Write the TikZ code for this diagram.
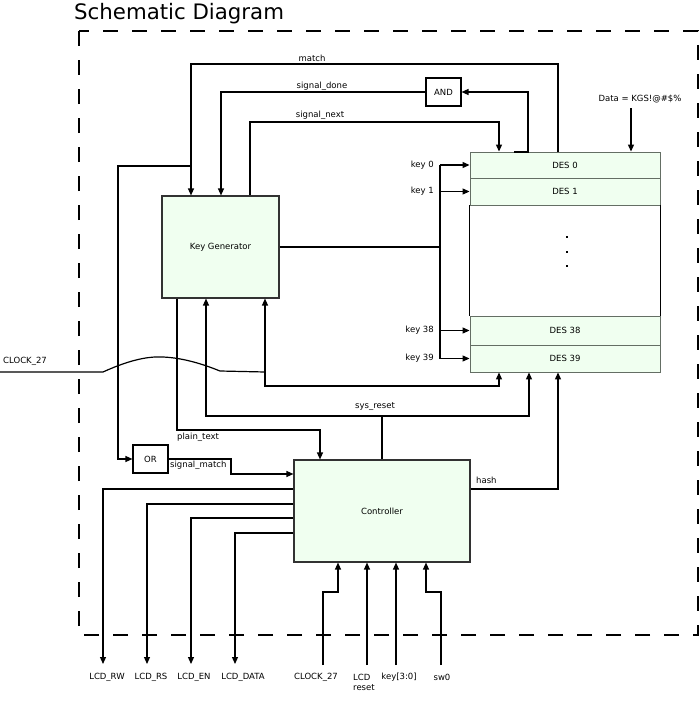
\documentclass[tikz,border=0pt]{standalone}
\usepackage{fontspec}
\setmainfont{DejaVu Sans}
\usetikzlibrary{arrows.meta,calc}
\definecolor{boxfill}{RGB}{240,255,240}
\definecolor{boxline}{RGB}{50,50,50}
\definecolor{desline}{RGB}{100,110,100}
\begin{document}
\begin{tikzpicture}[x=1pt,y=-1pt,
  wire/.style={line width=1.2pt, black},
  arr/.style={wire,-{Triangle[length=7pt,width=6pt]}},
  busline/.style={line width=2pt, black},
  lbl/.style={font=\fontsize{8.5}{11}\selectfont, inner sep=0pt},
  blk/.style={draw=boxline, line width=1.1pt, fill=boxfill, inner sep=0pt, font=\fontsize{8.5}{11}\selectfont},
  desbox/.style={draw=desline, line width=0.9pt, fill=boxfill, inner sep=0pt, minimum width=190pt, font=\fontsize{8.5}{11}\selectfont},
  gate/.style={draw=black, line width=1.1pt, fill=white, inner sep=0pt, minimum width=35pt, minimum height=28pt, font=\fontsize{8.5}{11}\selectfont},
  frame/.style={line width=1.3pt, dash pattern=on 15pt off 14pt, dash phase=5pt}
  ]
\useasboundingbox (0,0) rectangle (700,701);

% title and frame
\node[anchor=base west, inner sep=0pt, font=\fontsize{21.3}{25}\selectfont] (title) at (74,20) {Schematic Diagram};
\draw[frame] (79,31) -- (698,31) -- (698,635) -- (79,635) -- cycle;

% blocks
\node[blk, minimum width=117pt, minimum height=102pt] (kg) at (220.5,247) {Key Generator};
\node[blk, minimum width=176pt, minimum height=102pt] (ctrl) at (382,511) {Controller};
\node[gate] (and) at (443.5,92) {AND};
\node[gate] (org) at (150.5,459) {OR};

% DES stack
\node[desbox, minimum height=26pt] (des0) at (565,165) {DES 0};
\node[desbox, minimum height=27pt] (des1) at (565,191.5) {DES 1};
\node[desbox, minimum height=29pt] (des38) at (565,330.5) {DES 38};
\node[desbox, minimum height=27pt] (des39) at (565,358.5) {DES 39};
\draw[line width=1pt] (des1.south west) -- (des38.north west);
\draw[line width=1pt] (des1.south east) -- (des38.north east);
\fill (566,236) rectangle (568.4,238.4);
\fill (566,251) rectangle (568.4,253.4);
\fill (566,265) rectangle (568.4,267.4);

% match
\coordinate (mA) at (558,64);
\coordinate (mB) at (191,64);
\coordinate (mJ) at (191,166);
\coordinate (mC) at (118,166);
\draw[arr] (mA |- des0.north) -- (mA) -- (mB) -- (mB |- kg.north);
\draw[arr] (mJ) -- (mC) |- (org.west);
\node[lbl] (lmatch) at (312,58) {match};

% signal_done
\coordinate (dA) at (221,92);
\draw[arr] (and.west) -- (dA) -- (dA |- kg.north);
\node[lbl] (ldone) at (322,86) {signal\_done};
\coordinate (aS) at (514,152);
\coordinate (aA) at (528,92);
\draw[arr] (aS) -- (aS -| aA) -- (aA) -- (and.east);

% signal_next
\coordinate (nA) at (250,122);
\coordinate (nB) at (499,122);
\draw[arr] (nA |- kg.north) -- (nA) -- (nB) -- (nB |- des0.north);
\node[lbl] (lnext) at (320,115) {signal\_next};

% data
\node[lbl] (data) at (640,99) {Data = KGS!@\#\$\%};
\coordinate (dT) at (631,108);
\draw[arr] (dT) -- (dT |- des0.north);

% key bus
\coordinate (bus) at (440,247);
\draw[busline] (kg.east) -- (bus);
\draw[wire] (bus |- des0.west) -- (bus |- des39.west);
\foreach \d/\t in {des0/key 0, des1/key 1, des38/key 38, des39/key 39}{
  \draw[arr] (bus |- \d.west) -- (\d.west);
  \node[lbl, anchor=east] at ([xshift=-6pt]bus |- \d.west) {\t};
}

% CLOCK_27 input
\node[lbl, anchor=west] (lclk) at (3,361) {CLOCK\_27};
\coordinate (c0) at (0,372);
\coordinate (c1) at (103,372);
\coordinate (c2) at (220,371);
\coordinate (cJ) at (265,372);
\coordinate (cK) at (265,386);
\coordinate (cL) at (499,386);
\draw[wire] (c0) -- (c1) .. controls (125,362) and (145,356) .. (163,357) .. controls (185,358) and (205,365) .. (c2) -- (cJ);
\draw[arr] (cJ) -- (cJ |- kg.south);
\draw[arr] (cJ) -- (cK) -- (cL) -- (cL |- des39.south);

% sys_reset
\coordinate (sA) at (382,416);
\coordinate (sL) at (206,416);
\coordinate (sR) at (529,416);
\draw[wire] (sA |- ctrl.north) -- (sA);
\draw[arr] (sA) -- (sL) -- (sL |- kg.south);
\draw[arr] (sA) -- (sR) -- (sR |- des39.south);
\node[lbl] (lreset) at (375,407) {sys\_reset};

% plain_text
\coordinate (pA) at (177,430);
\coordinate (pB) at (320,430);
\draw[arr] (pA |- kg.south) -- (pA) -- (pB) -- (pB |- ctrl.north);
\node[lbl, anchor=west] (lplain) at (177,437) {plain\_text};

% signal_match
\coordinate (smA) at (231,459);
\coordinate (smB) at (231,474);
\draw[arr] (org.east) -- (smA) -- (smB) -- (smB -| ctrl.west);
\node[lbl, anchor=west] (lsm) at (170,465) {signal\_match};

% hash
\coordinate (hA) at (558,489);
\draw[arr] (hA -| ctrl.east) -- (hA) -- (hA |- des39.south);
\node[lbl, anchor=west] (lhash) at (476,480) {hash};

% LCD outputs
\coordinate (bot) at (0,664);
\coordinate (l1) at (103,489);
\coordinate (l2) at (147,504);
\coordinate (l3) at (191,518);
\coordinate (l4) at (235,533);
\foreach \c in {l1,l2,l3,l4}{
  \draw[arr] (\c -| ctrl.west) -- (\c) -- (\c |- bot);
}
\node[lbl] (t1) at (107,677) {LCD\_RW};
\node[lbl] (t2) at (151,677) {LCD\_RS};
\node[lbl] (t3) at (194,677) {LCD\_EN};
\node[lbl] (t4) at (243,677) {LCD\_DATA};

% controller inputs
\coordinate (bin) at (0,665);
\coordinate (i1a) at (323,592);
\coordinate (i1b) at (338,592);
\coordinate (i2) at (367,665);
\coordinate (i3) at (396,665);
\coordinate (i4a) at (441,592);
\coordinate (i4b) at (426,592);
\draw[arr] (i1a |- bin) -- (i1a) -- (i1b) -- (i1b |- ctrl.south);
\draw[arr] (i2) -- (i2 |- ctrl.south);
\draw[arr] (i3) -- (i3 |- ctrl.south);
\draw[arr] (i4a |- bin) -- (i4a) -- (i4b) -- (i4b |- ctrl.south);
\node[lbl] (t5) at (316,677) {CLOCK\_27};
\node[lbl, anchor=west] (t6) at (353,677) {LCD};
\node[lbl, anchor=west] (t6b) at (353,688) {reset};
\node[lbl] (t7) at (399,677) {key[3:0]};
\node[lbl] (t8) at (442,677) {sw0};
\end{tikzpicture}
\end{document}
